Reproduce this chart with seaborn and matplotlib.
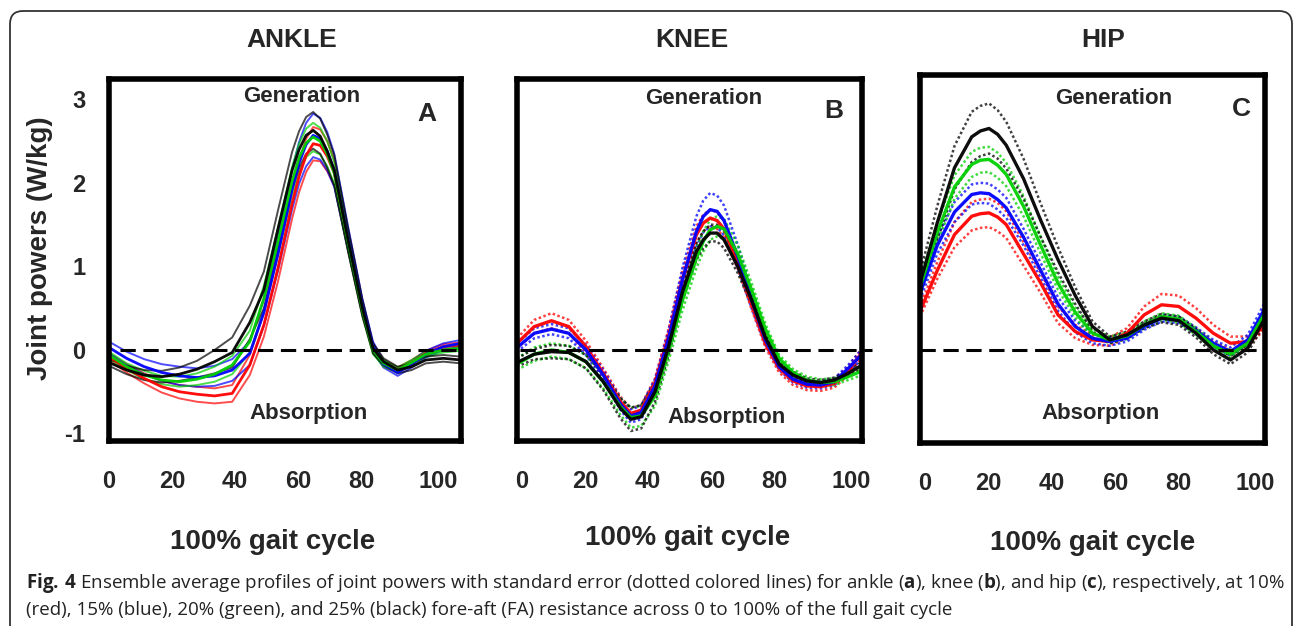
import matplotlib
matplotlib.use("Agg")
import matplotlib.pyplot as plt
import seaborn as sns
from matplotlib.patches import FancyBboxPatch
from matplotlib.transforms import IdentityTransform

# ---- data (joint power, W/kg) ----
# Ankle: mean and standard error per FA resistance level
ankle_x = [0, 5, 10, 15, 20, 25, 30, 35, 40, 44, 48, 52, 54, 56, 58, 60, 62, 64, 68, 72, 75, 78, 82, 86, 90, 95, 100]
ankle_red = [-0.08, -0.22, -0.34, -0.44, -0.50, -0.53, -0.55, -0.52, -0.18, 0.30, 0.98, 1.75, 2.08, 2.33, 2.47, 2.45, 2.32, 2.12, 1.30, 0.50, 0.02, -0.16, -0.24, -0.15, -0.04, 0.04, 0.06]
ankle_blue = [0.03, -0.10, -0.20, -0.27, -0.31, -0.33, -0.31, -0.24, -0.04, 0.45, 1.15, 1.92, 2.24, 2.46, 2.57, 2.53, 2.38, 2.15, 1.32, 0.52, 0.04, -0.17, -0.27, -0.17, -0.05, 0.04, 0.08]
ankle_green = [-0.06, -0.20, -0.30, -0.36, -0.38, -0.35, -0.29, -0.18, 0.10, 0.62, 1.30, 2.02, 2.30, 2.48, 2.55, 2.50, 2.35, 2.12, 1.28, 0.48, 0.00, -0.16, -0.24, -0.15, -0.05, 0.00, 0.02]
ankle_black = [-0.15, -0.24, -0.30, -0.32, -0.29, -0.23, -0.14, -0.03, 0.33, 0.72, 1.45, 2.15, 2.40, 2.57, 2.63, 2.56, 2.38, 2.15, 1.30, 0.50, 0.02, -0.14, -0.24, -0.20, -0.12, -0.10, -0.12]
ankle_red_se = [0.04, 0.05, 0.06, 0.07, 0.08, 0.09, 0.09, 0.10, 0.12, 0.14, 0.16, 0.18, 0.19, 0.20, 0.20, 0.19, 0.18, 0.15, 0.12, 0.08, 0.05, 0.04, 0.03, 0.03, 0.03, 0.03, 0.03]
ankle_blue_se = [0.07, 0.08, 0.09, 0.10, 0.11, 0.11, 0.12, 0.13, 0.14, 0.16, 0.20, 0.24, 0.25, 0.26, 0.26, 0.25, 0.23, 0.20, 0.14, 0.09, 0.06, 0.04, 0.04, 0.04, 0.04, 0.04, 0.04]
ankle_green_se = [0.04, 0.04, 0.05, 0.05, 0.06, 0.07, 0.09, 0.11, 0.13, 0.15, 0.16, 0.17, 0.17, 0.17, 0.17, 0.16, 0.15, 0.13, 0.10, 0.07, 0.05, 0.04, 0.03, 0.03, 0.03, 0.03, 0.03]
ankle_black_se = [0.04, 0.05, 0.06, 0.07, 0.08, 0.10, 0.14, 0.18, 0.20, 0.22, 0.22, 0.22, 0.22, 0.22, 0.22, 0.21, 0.20, 0.18, 0.14, 0.10, 0.06, 0.04, 0.04, 0.04, 0.04, 0.04, 0.04]

# Knee
knee_x = [0, 5, 10, 15, 20, 25, 30, 33, 36, 40, 44, 48, 52, 54, 56, 58, 60, 64, 68, 72, 76, 80, 84, 88, 92, 96, 100]
knee_red = [0.08, 0.28, 0.35, 0.28, 0.04, -0.28, -0.62, -0.76, -0.72, -0.40, 0.18, 0.85, 1.38, 1.52, 1.58, 1.55, 1.45, 1.05, 0.55, 0.08, -0.22, -0.37, -0.43, -0.44, -0.40, -0.25, -0.03]
knee_blue = [0.03, 0.20, 0.25, 0.20, 0.00, -0.30, -0.65, -0.79, -0.75, -0.43, 0.15, 0.85, 1.42, 1.60, 1.68, 1.66, 1.55, 1.12, 0.60, 0.12, -0.20, -0.35, -0.41, -0.42, -0.38, -0.22, -0.05]
knee_green = [-0.17, -0.05, 0.00, -0.03, -0.14, -0.38, -0.68, -0.81, -0.79, -0.55, 0.00, 0.60, 1.10, 1.30, 1.44, 1.48, 1.45, 1.15, 0.72, 0.25, -0.10, -0.27, -0.36, -0.39, -0.38, -0.32, -0.25]
knee_black = [-0.15, -0.05, -0.02, -0.03, -0.14, -0.38, -0.70, -0.83, -0.80, -0.50, 0.05, 0.70, 1.18, 1.32, 1.40, 1.40, 1.32, 1.00, 0.60, 0.15, -0.17, -0.30, -0.37, -0.39, -0.36, -0.28, -0.18]
knee_red_se = [0.06, 0.08, 0.09, 0.08, 0.07, 0.06, 0.06, 0.06, 0.06, 0.06, 0.08, 0.10, 0.10, 0.10, 0.10, 0.10, 0.10, 0.08, 0.06, 0.05, 0.05, 0.05, 0.05, 0.05, 0.05, 0.05, 0.05]
knee_blue_se = [0.05, 0.06, 0.06, 0.06, 0.06, 0.06, 0.07, 0.08, 0.08, 0.08, 0.10, 0.14, 0.18, 0.19, 0.20, 0.19, 0.18, 0.14, 0.10, 0.06, 0.04, 0.04, 0.04, 0.04, 0.04, 0.04, 0.06]
knee_green_se = [0.07, 0.08, 0.08, 0.08, 0.08, 0.08, 0.10, 0.12, 0.12, 0.12, 0.12, 0.12, 0.12, 0.12, 0.12, 0.12, 0.12, 0.10, 0.08, 0.06, 0.04, 0.04, 0.04, 0.04, 0.04, 0.04, 0.05]
knee_black_se = [0.05, 0.06, 0.08, 0.08, 0.08, 0.10, 0.12, 0.14, 0.14, 0.12, 0.10, 0.10, 0.10, 0.10, 0.10, 0.10, 0.10, 0.08, 0.06, 0.05, 0.04, 0.04, 0.03, 0.03, 0.03, 0.03, 0.04]

# Hip
hip_x = [0, 5, 10, 15, 17.5, 20, 22.5, 25, 30, 35, 40, 45, 50, 55, 60, 65, 70, 75, 80, 85, 90, 95, 100]
hip_red = [0.46, 0.95, 1.38, 1.60, 1.63, 1.64, 1.59, 1.50, 1.15, 0.80, 0.42, 0.22, 0.12, 0.10, 0.20, 0.42, 0.54, 0.52, 0.38, 0.20, 0.08, 0.10, 0.30]
hip_blue = [0.68, 1.25, 1.65, 1.86, 1.88, 1.87, 1.80, 1.70, 1.35, 0.95, 0.55, 0.28, 0.14, 0.10, 0.14, 0.28, 0.38, 0.36, 0.23, 0.08, -0.02, 0.12, 0.50]
hip_green = [0.75, 1.40, 1.95, 2.22, 2.27, 2.28, 2.21, 2.10, 1.72, 1.25, 0.80, 0.45, 0.20, 0.12, 0.17, 0.30, 0.40, 0.37, 0.22, 0.05, -0.05, 0.08, 0.44]
hip_black = [0.80, 1.52, 2.18, 2.55, 2.62, 2.65, 2.58, 2.45, 2.05, 1.55, 1.08, 0.65, 0.28, 0.12, 0.18, 0.30, 0.38, 0.35, 0.20, 0.00, -0.12, 0.02, 0.38]
hip_red_se = [0.06, 0.10, 0.15, 0.17, 0.17, 0.17, 0.17, 0.16, 0.14, 0.12, 0.10, 0.08, 0.06, 0.05, 0.06, 0.10, 0.13, 0.13, 0.12, 0.10, 0.08, 0.06, 0.05]
hip_blue_se = [0.08, 0.10, 0.12, 0.12, 0.12, 0.12, 0.12, 0.12, 0.10, 0.09, 0.08, 0.07, 0.06, 0.05, 0.04, 0.04, 0.04, 0.04, 0.04, 0.04, 0.05, 0.06, 0.07]
hip_green_se = [0.10, 0.12, 0.14, 0.15, 0.15, 0.15, 0.15, 0.14, 0.12, 0.10, 0.08, 0.06, 0.05, 0.04, 0.04, 0.04, 0.04, 0.04, 0.04, 0.04, 0.04, 0.04, 0.05]
hip_black_se = [0.12, 0.20, 0.26, 0.30, 0.30, 0.30, 0.29, 0.28, 0.24, 0.20, 0.15, 0.10, 0.06, 0.04, 0.04, 0.04, 0.05, 0.05, 0.05, 0.05, 0.05, 0.05, 0.06]

levels = ["10%", "15%", "20%", "25%"]
level_colors = ["#ff0000", "#0000ff", "#00d000", "#000000"]
tick_labels = ["0", "20", "40", "60", "80", "100"]
ytick_vals = [-1, 0, 1, 2, 3]

W, H = 1295, 626


def fpos(x, y):
    # pixel position (from top-left) -> figure fraction
    return x / W, 1 - y / H


sns.set_style("white")
plt.rcParams["font.family"] = ["Liberation Sans", "DejaVu Sans"]
plt.rcParams["mathtext.fontset"] = "custom"
plt.rcParams["mathtext.rm"] = "Open Sans"
plt.rcParams["mathtext.bf"] = "Open Sans:bold"

fig = plt.figure(figsize=(W / 100, H / 100), dpi=100)

panels = [
    dict(name="ANKLE", letter="A", x=ankle_x,
         means=[ankle_red, ankle_blue, ankle_green, ankle_black],
         ses=[ankle_red_se, ankle_blue_se, ankle_green_se, ankle_black_se],
         box=(109, 79, 461, 441), ylim=(-1.09, 3.245), se_style="solid",
         xtick_pos=[0, 17.9, 35.8, 53.7, 71.6, 93.5], zero_span=(0.03, 0.99),
         title=(292, 40), gen=(302, 97), letter_pos=(427, 114), absn=(309, 414), xl=(273, 542)),
    dict(name="KNEE", letter="B", x=knee_x,
         means=[knee_red, knee_blue, knee_green, knee_black],
         ses=[knee_red_se, knee_blue_se, knee_green_se, knee_black_se],
         box=(517, 79, 862, 441), ylim=(-1.09, 3.245), se_style="dotted",
         xtick_pos=[1.4, 19.7, 38.0, 56.5, 74.5, 96.8], zero_span=(0.01, 1.03),
         title=(692, 40), gen=(704, 98), letter_pos=(834, 111), absn=(727, 417), xl=(688, 538)),
    dict(name="HIP", letter="C", x=hip_x,
         means=[hip_red, hip_blue, hip_green, hip_black],
         ses=[hip_red_se, hip_blue_se, hip_green_se, hip_black_se],
         box=(920, 75, 1265, 443), ylim=(-1.114, 3.29), se_style="dotted",
         xtick_pos=[1.4, 19.7, 38.3, 56.5, 74.8, 97.1], zero_span=(0.0, 1.0),
         title=(1103, 40), gen=(1114, 98), letter_pos=(1241, 109), absn=(1101, 413), xl=(1093, 543)),
]

for i, p in enumerate(panels):
    x0, y0, x1, y1 = p["box"]
    ax = fig.add_axes([x0 / W, 1 - y1 / H, (x1 - x0) / W, (y1 - y0) / H])
    ax.set_facecolor("white")

    # standard error lines first, means on top
    for mean, se, col in zip(p["means"], p["ses"], level_colors):
        upper = [m + s for m, s in zip(mean, se)]
        lower = [m - s for m, s in zip(mean, se)]
        for band in (upper, lower):
            if p["se_style"] == "solid":
                sns.lineplot(x=p["x"], y=band, ax=ax, color=col, lw=1.4, alpha=0.7,
                             estimator=None, sort=False, legend=False)
            else:
                sns.lineplot(x=p["x"], y=band, ax=ax, color=col, lw=1.8, alpha=0.75,
                             linestyle=(0, (1, 1)), estimator=None, sort=False, legend=False)
    for mean, col in zip(p["means"], level_colors):
        lw = 2.0 if p["se_style"] == "solid" else 2.4
        sns.lineplot(x=p["x"], y=mean, ax=ax, color=col, lw=lw, alpha=0.95,
                     estimator=None, sort=False, legend=False)

    ax.axhline(0, xmin=p["zero_span"][0], xmax=p["zero_span"][1], color="black",
               lw=2.2, dashes=(5, 2.5), clip_on=False, zorder=5)

    ax.set_xlim(0, 100)
    ax.set_ylim(*p["ylim"])
    ax.set_xticks(p["xtick_pos"])
    ax.set_xticklabels(tick_labels, fontsize=17, fontweight="bold")
    ax.tick_params(axis="x", length=0, pad=21)
    if i == 0:
        ax.set_yticks(ytick_vals)
        ax.set_yticklabels([str(v) for v in ytick_vals], fontsize=17, fontweight="bold")
        ax.tick_params(axis="y", length=0, pad=17)
    else:
        ax.set_yticks([])
    ax.set_xlabel("")
    ax.set_ylabel("")
    for s in ax.spines.values():
        s.set_visible(True)
        s.set_linewidth(4)
        s.set_color("black")

    fig.text(*fpos(*p["title"]), p["name"], fontsize=19, fontweight="bold", ha="center", va="center")
    fig.text(*fpos(*p["gen"]), "Generation", fontsize=16, fontweight="bold", ha="center", va="center")
    fig.text(*fpos(*p["absn"]), "Absorption", fontsize=16, fontweight="bold", ha="center", va="center")
    fig.text(*fpos(*p["letter_pos"]), p["letter"], fontsize=19, fontweight="bold", ha="center", va="center")
    fig.text(*fpos(*p["xl"]), "100% gait cycle", fontsize=20, fontweight="bold", ha="center", va="center")

fig.text(*fpos(40, 248), "Joint powers (W/kg)", fontsize=20, fontweight="bold",
         rotation=90, ha="center", va="center")

# caption
cap1 = (r"$\mathbf{Fig.\,4}$ Ensemble average profiles of joint powers with standard error "
        r"(dotted colored lines) for ankle ($\mathbf{a}$), knee ($\mathbf{b}$), and hip ($\mathbf{c}$), "
        r"respectively, at 10%")
cap2 = "(red), 15% (blue), 20% (green), and 25% (black) fore-aft (FA) resistance across 0 to 100% of the full gait cycle"
fig.text(*fpos(26, 583), cap1, fontsize=13.5, family="Open Sans", ha="left", va="center", color="#222222")
fig.text(*fpos(26, 610), cap2, fontsize=13.5, family="Open Sans", ha="left", va="center", color="#222222")

# rounded frame around the whole figure
frame = FancyBboxPatch((10, -30), 1282, 645, boxstyle="round,pad=0,rounding_size=13",
                       transform=IdentityTransform(), fill=False, lw=1.3, ec="#333333")
fig.add_artist(frame)

fig.savefig("out.png", dpi=100)
